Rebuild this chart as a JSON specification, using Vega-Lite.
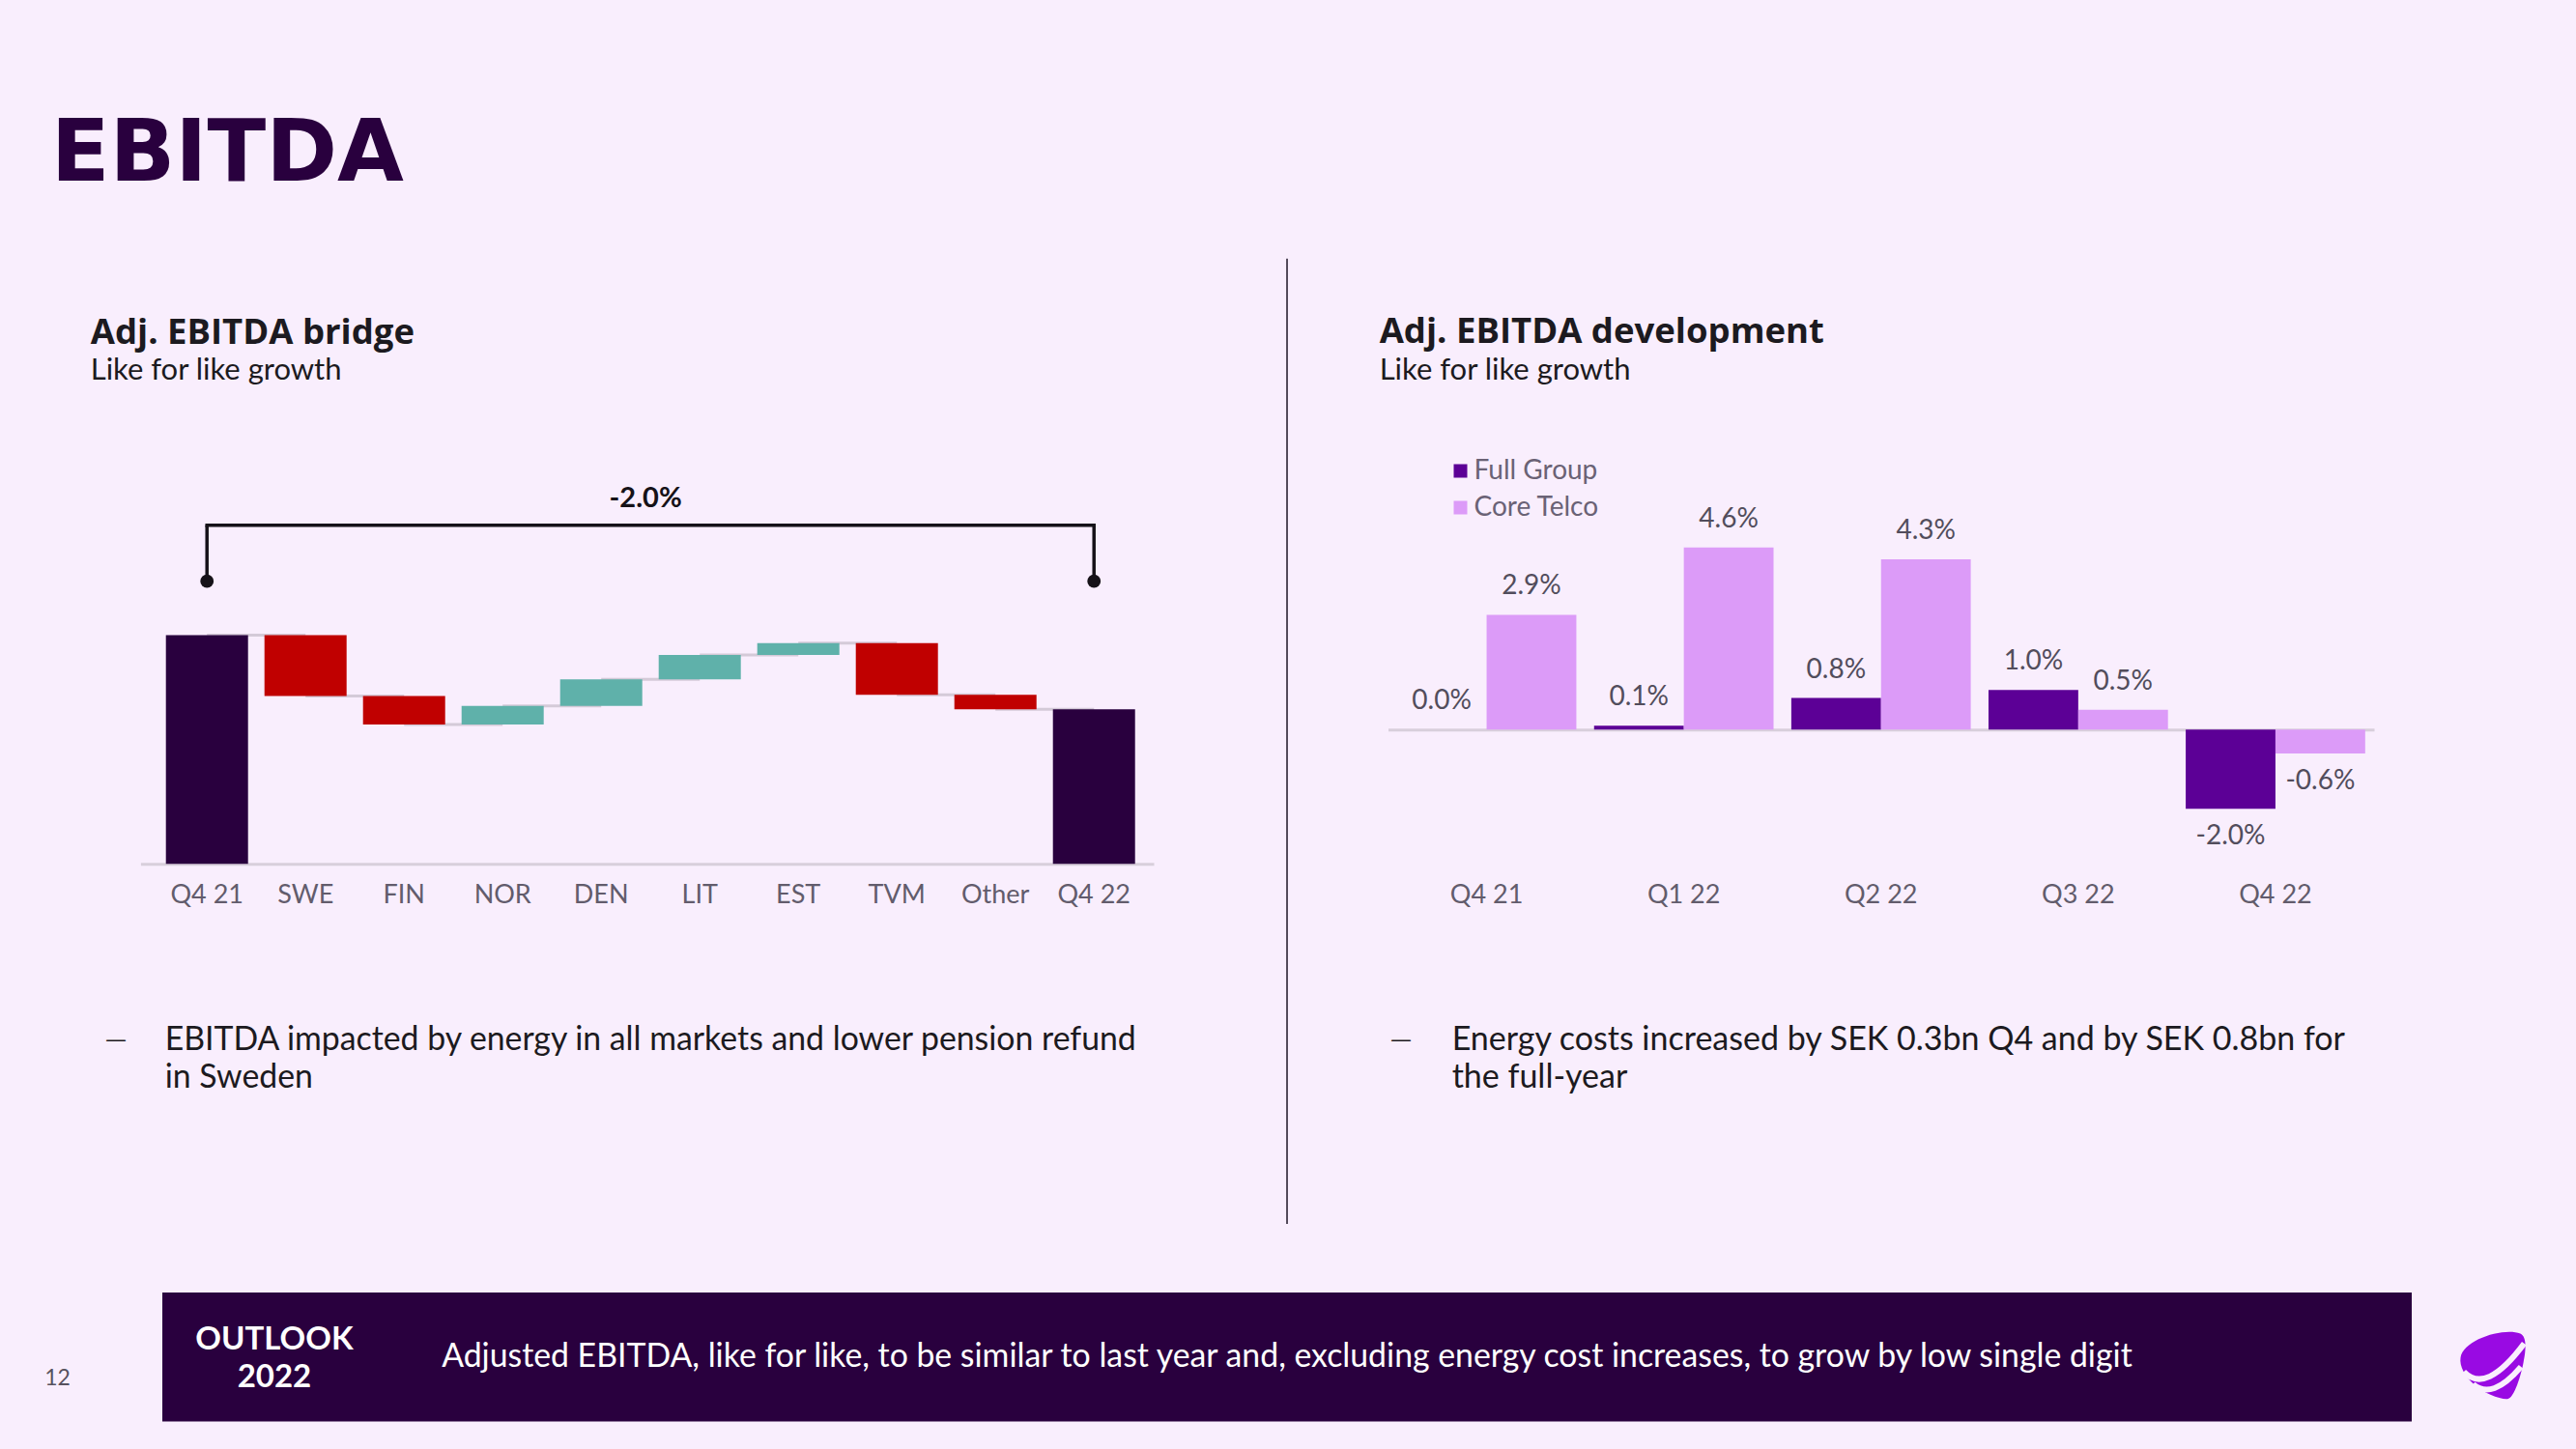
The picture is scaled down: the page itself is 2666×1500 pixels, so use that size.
{
  "$schema": "https://vega.github.io/schema/vega-lite/v6.json",
  "width": 2666,
  "height": 1500,
  "autosize": {"type": "fit", "contains": "padding"},
  "padding": 0,
  "background": "#f9eefd",
  "config": {
    "view": {"stroke": null},
    "font": "Lato",
    "axisY": {"disable": true}
  },
  "datasets": {
    "bridge": [
      {"cat": "Q4 21", "type": "total", "end": 100},
      {"cat": "SWE", "type": "decrease", "start": 100, "end": 98.36},
      {"cat": "FIN", "type": "decrease", "start": 98.36, "end": 97.59},
      {"cat": "NOR", "type": "increase", "start": 97.59, "end": 98.09},
      {"cat": "DEN", "type": "increase", "start": 98.09, "end": 98.81},
      {"cat": "LIT", "type": "increase", "start": 98.81, "end": 99.47},
      {"cat": "EST", "type": "increase", "start": 99.47, "end": 99.79},
      {"cat": "TVM", "type": "decrease", "start": 99.79, "end": 98.39},
      {"cat": "Other", "type": "decrease", "start": 98.39, "end": 98.0},
      {"cat": "Q4 22", "type": "total", "end": 98.0}
    ],
    "dev": [
      {"quarter": "Q4 21", "series": "Full Group", "value": 0.0},
      {"quarter": "Q4 21", "series": "Core Telco", "value": 2.9},
      {"quarter": "Q1 22", "series": "Full Group", "value": 0.1},
      {"quarter": "Q1 22", "series": "Core Telco", "value": 4.6},
      {"quarter": "Q2 22", "series": "Full Group", "value": 0.8},
      {"quarter": "Q2 22", "series": "Core Telco", "value": 4.3},
      {"quarter": "Q3 22", "series": "Full Group", "value": 1.0},
      {"quarter": "Q3 22", "series": "Core Telco", "value": 0.5},
      {"quarter": "Q4 22", "series": "Full Group", "value": -2.0},
      {"quarter": "Q4 22", "series": "Core Telco", "value": -0.6}
    ],
    "outlook": [
      {"key": "outlook", "head": "OUTLOOK\n2022", "text": "Adjusted EBITDA, like for like, to be similar to last year and, excluding energy cost increases, to grow by low single digit", "page": "12"}
    ]
  },
  "layer": [
    {
      "data": {"name": "bridge"},
      "layer": [
        {
          "transform": [
            {"window": [{"op": "lead", "field": "cat", "as": "next"}]},
            {"filter": "datum.next != null"}
          ],
          "mark": {"type": "rule", "color": "#d4cad8", "strokeWidth": 3},
          "encoding": {
            "x": {
              "field": "cat", "type": "nominal", "sort": null,
              "scale": {"domain": ["Q4 21", "SWE", "FIN", "NOR", "DEN", "LIT", "EST", "TVM", "Other", "Q4 22"], "range": [145.4, 1194], "paddingInner": 0.1667, "paddingOuter": 0.2235, "align": 0.577},
              "axis": {"orient": "bottom", "offset": -605.7, "title": null, "domainColor": "#d8cfdb", "domainWidth": 3, "ticks": false, "tickSize": 0, "labelFontSize": 27, "labelColor": "#625c6c", "labelPadding": 31.7, "labelBaseline": "middle", "labelAngle": 0}
            },
            "x2": {"field": "next"},
            "y": {"field": "end", "type": "quantitative", "scale": {"domain": [93.82, 116], "range": [894.3, 44.8], "nice": false, "zero": false}}
          }
        },
        {
          "transform": [{"filter": "datum.type == 'total'"}],
          "mark": {"type": "bar"},
          "encoding": {
            "x": {"field": "cat", "type": "nominal"},
            "y": {"field": "end", "type": "quantitative"},
            "y2": {"datum": 93.82},
            "color": {"field": "type", "type": "nominal", "scale": {"domain": ["total", "decrease", "increase"], "range": ["#29003e", "#c00000", "#5fb1aa"]}, "legend": null}
          }
        },
        {
          "transform": [{"filter": "datum.type != 'total'"}],
          "mark": {"type": "bar"},
          "encoding": {
            "x": {"field": "cat", "type": "nominal"},
            "y": {"field": "start", "type": "quantitative"},
            "y2": {"field": "end"},
            "color": {"field": "type", "type": "nominal", "legend": null}
          }
        },
        {
          "transform": [{"filter": "datum.type == 'total'"}],
          "mark": {"type": "rule", "color": "#161218", "strokeWidth": 3.5},
          "encoding": {
            "x": {"field": "cat", "type": "nominal"},
            "y": {"datum": 101.46, "type": "quantitative"},
            "y2": {"datum": 102.97}
          }
        },
        {
          "transform": [{"filter": "datum.type == 'total'"}],
          "mark": {"type": "point", "filled": true, "size": 190, "color": "#161218", "opacity": 1},
          "encoding": {
            "x": {"field": "cat", "type": "nominal"},
            "y": {"datum": 101.46, "type": "quantitative"}
          }
        },
        {
          "data": {"values": [{}]},
          "mark": {"type": "rule", "color": "#161218", "strokeWidth": 3.5, "strokeCap": "square"},
          "encoding": {
            "x": {"datum": "Q4 21", "type": "nominal"},
            "x2": {"datum": "Q4 22"},
            "y": {"datum": 102.97, "type": "quantitative"}
          }
        },
        {
          "data": {"values": [{}]},
          "mark": {"type": "text", "fontSize": 29, "fontWeight": "bold", "color": "#161218", "align": "center", "baseline": "alphabetic"},
          "encoding": {
            "x": {"datum": "DEN", "type": "nominal", "bandPosition": 1.04},
            "y": {"datum": 103.46, "type": "quantitative"},
            "text": {"value": "-2.0%"}
          }
        },
        {
          "data": {"values": [{}]},
          "mark": {"type": "text", "font": "DejaVu Sans", "fontSize": 89, "fontWeight": "bold", "color": "#29003e", "align": "left", "baseline": "alphabetic", "dx": -119},
          "encoding": {
            "x": {"datum": "Q4 21", "type": "nominal", "bandPosition": 0},
            "y": {"datum": 112.295, "type": "quantitative"},
            "text": {"value": "EBITDA"}
          }
        },
        {
          "data": {"values": [{}]},
          "mark": {"type": "text", "font": "Open Sans", "fontSize": 36.5, "fontWeight": "bold", "color": "#1c1a20", "align": "left", "baseline": "alphabetic", "dx": -78},
          "encoding": {
            "x": {"datum": "Q4 21", "type": "nominal", "bandPosition": 0},
            "y": {"datum": 107.875, "type": "quantitative"},
            "text": {"value": "Adj. EBITDA bridge"}
          }
        },
        {
          "data": {"values": [{}]},
          "mark": {"type": "text", "fontSize": 31, "color": "#1c1a20", "align": "left", "baseline": "alphabetic", "dx": -78},
          "encoding": {
            "x": {"datum": "Q4 21", "type": "nominal", "bandPosition": 0},
            "y": {"datum": 106.91, "type": "quantitative"},
            "text": {"value": "Like for like growth"}
          }
        },
        {
          "data": {"values": [{}]},
          "mark": {"type": "text", "font": "DejaVu Sans", "fontSize": 22, "color": "#1c1a20", "align": "center", "baseline": "alphabetic", "dx": -51.7, "dy": -4},
          "encoding": {
            "x": {"datum": "Q4 21", "type": "nominal", "bandPosition": 0},
            "y": {"datum": 88.781, "type": "quantitative"},
            "text": {"value": "—"}
          }
        },
        {
          "data": {"values": [{}]},
          "mark": {"type": "text", "fontSize": 33.8, "color": "#1c1a20", "align": "left", "baseline": "alphabetic", "dx": -1, "lineBreak": "\n", "lineHeight": 39},
          "encoding": {
            "x": {"datum": "Q4 21", "type": "nominal", "bandPosition": 0},
            "y": {"datum": 88.781, "type": "quantitative"},
            "text": {"value": "EBITDA impacted by energy in all markets and lower pension refund\nin Sweden"}
          }
        }
      ]
    },
    {
      "data": {"name": "dev"},
      "transform": [
        {"calculate": "(datum.value < 0 ? '-' : '') + format(abs(datum.value), '.1f') + '%'", "as": "label"}
      ],
      "layer": [
        {
          "mark": {"type": "bar"},
          "encoding": {
            "x": {
              "field": "quarter", "type": "nominal", "sort": null,
              "scale": {"domain": ["Q4 21", "Q1 22", "Q2 22", "Q3 22", "Q4 22"], "range": [1436.5, 2457], "paddingInner": 0.09, "paddingOuter": 0.045},
              "axis": {"orient": "bottom", "offset": -744.7, "title": null, "domainColor": "#d8cfdb", "domainWidth": 3, "ticks": false, "tickSize": 0, "labelFontSize": 27, "labelColor": "#625c6c", "labelPadding": 170.7, "labelBaseline": "middle", "labelAngle": 0}
            },
            "xOffset": {"field": "series", "type": "nominal", "sort": null, "scale": {"domain": ["Full Group", "Core Telco"], "paddingInner": 0, "paddingOuter": 0}},
            "y": {"field": "value", "type": "quantitative", "scale": {"domain": [-4, 8], "range": [919.3, 427.3], "nice": false}},
            "color": {
              "field": "series", "type": "nominal", "sort": null,
              "scale": {"domain": ["Full Group", "Core Telco"], "range": ["#5c0096", "#dc9bf8"]},
              "legend": {"orient": "none", "legendX": 1497.5, "legendY": 473.5, "title": null, "symbolType": "square", "symbolSize": 196, "symbolStrokeWidth": 0, "labelFontSize": 28, "labelColor": "#6a6275", "labelOffset": 0, "rowPadding": 10, "padding": 0}
            }
          }
        },
        {
          "transform": [{"filter": "datum.value >= 0"}],
          "mark": {"type": "text", "fontSize": 28, "color": "#524d5c", "baseline": "middle", "align": "center", "dy": -29},
          "encoding": {
            "x": {"field": "quarter", "type": "nominal"},
            "xOffset": {"field": "series", "type": "nominal"},
            "y": {"field": "value", "type": "quantitative"},
            "text": {"field": "label"}
          }
        },
        {
          "transform": [{"filter": "datum.value < 0"}],
          "mark": {"type": "text", "fontSize": 28, "color": "#524d5c", "baseline": "middle", "align": "center", "dy": 29},
          "encoding": {
            "x": {"field": "quarter", "type": "nominal"},
            "xOffset": {"field": "series", "type": "nominal"},
            "y": {"field": "value", "type": "quantitative"},
            "text": {"field": "label"}
          }
        },
        {
          "data": {"values": [{}]},
          "mark": {"type": "rule", "color": "#2b2233", "strokeWidth": 1.6},
          "encoding": {
            "x": {"datum": "Q4 21", "type": "nominal", "bandPosition": -0.612},
            "y": {"datum": 11.89, "type": "quantitative"},
            "y2": {"datum": -12.48}
          }
        },
        {
          "data": {"values": [{}]},
          "mark": {"type": "text", "font": "Open Sans", "fontSize": 36.5, "fontWeight": "bold", "color": "#1c1a20", "align": "left", "baseline": "alphabetic", "dx": -18},
          "encoding": {
            "x": {"datum": "Q4 21", "type": "nominal", "bandPosition": 0},
            "y": {"datum": 9.763, "type": "quantitative"},
            "text": {"value": "Adj. EBITDA development"}
          }
        },
        {
          "data": {"values": [{}]},
          "mark": {"type": "text", "fontSize": 31, "color": "#1c1a20", "align": "left", "baseline": "alphabetic", "dx": -18},
          "encoding": {
            "x": {"datum": "Q4 21", "type": "nominal", "bandPosition": 0},
            "y": {"datum": 8.837, "type": "quantitative"},
            "text": {"value": "Like for like growth"}
          }
        },
        {
          "data": {"values": [{}]},
          "mark": {"type": "text", "font": "DejaVu Sans", "fontSize": 22, "color": "#1c1a20", "align": "center", "baseline": "alphabetic", "dx": 4.3, "dy": -4},
          "encoding": {
            "x": {"datum": "Q4 21", "type": "nominal", "bandPosition": 0},
            "y": {"datum": -8.098, "type": "quantitative"},
            "text": {"value": "—"}
          }
        },
        {
          "data": {"values": [{}]},
          "mark": {"type": "text", "fontSize": 34, "color": "#1c1a20", "align": "left", "baseline": "alphabetic", "dx": 57, "lineBreak": "\n", "lineHeight": 39},
          "encoding": {
            "x": {"datum": "Q4 21", "type": "nominal", "bandPosition": 0},
            "y": {"datum": -8.098, "type": "quantitative"},
            "text": {"value": "Energy costs increased by SEK 0.3bn Q4 and by SEK 0.8bn for\nthe full-year"}
          }
        }
      ]
    },
    {
      "data": {"name": "outlook"},
      "layer": [
        {
          "mark": {"type": "rect", "color": "#29003e"},
          "encoding": {
            "x": {"field": "key", "type": "nominal", "scale": {"range": [168, 2496], "paddingInner": 0, "paddingOuter": 0}, "axis": null},
            "y": {"field": "key", "type": "nominal", "scale": {"range": [1338, 1471.5], "paddingInner": 0, "paddingOuter": 0}, "axis": null}
          }
        },
        {
          "mark": {"type": "text", "fontSize": 33, "fontWeight": "bold", "color": "#ffffff", "align": "center", "baseline": "alphabetic", "lineBreak": "\n", "lineHeight": 39},
          "encoding": {
            "x": {"field": "key", "type": "nominal", "bandPosition": 0.0498},
            "y": {"field": "key", "type": "nominal", "bandPosition": 0.442},
            "text": {"field": "head"}
          }
        },
        {
          "mark": {"type": "text", "fontSize": 33.8, "color": "#ffffff", "align": "left", "baseline": "middle"},
          "encoding": {
            "x": {"field": "key", "type": "nominal", "bandPosition": 0.1242},
            "y": {"field": "key", "type": "nominal", "bandPosition": 0.5},
            "text": {"field": "text"}
          }
        },
        {
          "mark": {"type": "text", "fontSize": 23, "color": "#57525e", "align": "center", "baseline": "middle"},
          "encoding": {
            "x": {"field": "key", "type": "nominal", "bandPosition": -0.0466},
            "y": {"field": "key", "type": "nominal", "bandPosition": 0.667},
            "text": {"field": "page"}
          }
        },
        {
          "mark": {"type": "point", "filled": true, "opacity": 1, "color": "#990ae3", "size": 5476, "shape": "M -0.88 -0.21 C -0.8 -0.7 0.3 -1.05 0.79 -0.88 C 0.98 -0.8 0.95 -0.4 0.88 -0.08 C 0.82 0.25 0.62 0.95 0.43 0.95 C 0.25 0.97 -0.25 0.8 -0.55 0.5 C -0.75 0.3 -0.92 0.05 -0.88 -0.21 Z"},
          "encoding": {
            "x": {"field": "key", "type": "nominal", "bandPosition": 1.0357},
            "y": {"field": "key", "type": "nominal", "bandPosition": 0.562}
          }
        },
        {
          "mark": {"type": "point", "filled": false, "opacity": 1, "stroke": "#f9eefd", "strokeWidth": 6, "size": 5476, "shape": "M -0.79 0.19 Q -0.175 0.845 0.9 -0.6 M -0.53 0.54 Q 0.0 1.0 0.81 0.05"},
          "encoding": {
            "x": {"field": "key", "type": "nominal", "bandPosition": 1.0357},
            "y": {"field": "key", "type": "nominal", "bandPosition": 0.562}
          }
        }
      ]
    }
  ],
  "resolve": {"scale": {"x": "independent", "y": "independent", "color": "independent"}}
}
